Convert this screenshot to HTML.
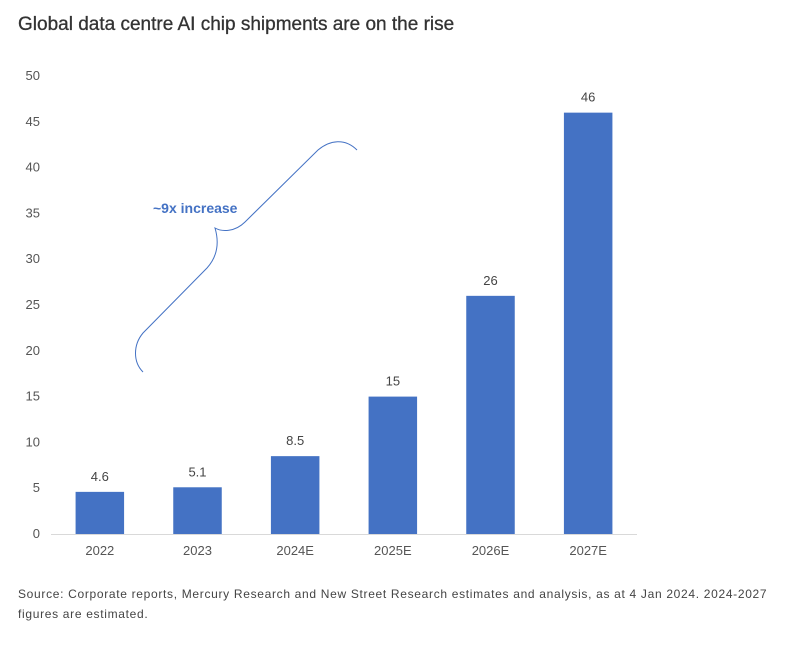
<!DOCTYPE html>
<html><head><meta charset="utf-8"><style>
body{margin:0;width:785px;height:660px;background:#fff;font-family:"Liberation Sans",sans-serif;overflow:hidden;position:relative}
#title{position:absolute;left:18px;top:14px;font-size:19px;color:#333;margin:0;font-weight:normal;-webkit-text-stroke:0.3px #333}
#src{position:absolute;left:18px;top:584px;font-size:12px;color:#444;line-height:20px;width:768px;letter-spacing:0.68px}
svg{position:absolute;left:0;top:0}
</style></head><body>
<h1 id="title">Global data centre AI chip shipments are on the rise</h1>
<svg id="chart" width="785" height="660"></svg>
<div id="src">Source: Corporate reports, Mercury Research and New Street Research estimates and analysis, as at 4 Jan 2024. 2024-2027<br>figures are estimated.</div>
<script>
const categories=["2022","2023","2024E","2025E","2026E","2027E"];
const values=[4.6,5.1,8.5,15,26,46];
const valueLabels=["4.6","5.1","8.5","15","26","46"];
const yTicks=[0,5,10,15,20,25,30,35,40,45,50];
const NS="http://www.w3.org/2000/svg";
const svg=document.getElementById('chart');
const x0=51,x1=637,yBase=534,yTop=76,yMax=50;
const band=(x1-x0)/categories.length,barW=48.5;
const y=v=>yBase-(v/yMax)*(yBase-yTop);
const xc=i=>x0+band*(i+0.5);
function mk(t,a){const e=document.createElementNS(NS,t);for(const k in a)e.setAttribute(k,a[k]);svg.appendChild(e);return e;}
yTicks.forEach(t=>{
 const e=mk('text',{x:40,y:y(t)+4,'text-anchor':'end','font-size':13,fill:'#555'});
 e.textContent=t;
 
 
});
const ax=mk('line',{x1:x0,x2:x1,y1:yBase+0.5,y2:yBase+0.5,stroke:'#d9d9d9','stroke-width':1});


categories.forEach((c,i)=>{
 const r=mk('rect',{x:xc(i)-barW/2,y:y(values[i]),width:barW,height:yBase-y(values[i]),fill:'#4472c4'});
 
 
 const l=mk('text',{x:xc(i),y:y(values[i])-11,'text-anchor':'middle','font-size':13,fill:'#444'});
 l.textContent=valueLabels[i];
 
 
 const t=mk('text',{x:xc(i),y:yBase+21,'text-anchor':'middle','font-size':13,fill:'#555'});
 t.textContent=c;
 
 
});
const br=mk('path',{d:'M143,372 C133,362 133,345 143,333 L207,268 C216,258 220,245 215,228 C222,232 235,232 245,222 L318,150 C330,140 345,138 357,150',fill:'none',stroke:'#4472c4','stroke-width':1});


const an=mk('text',{x:153,y:213,'font-size':14,'font-weight':'bold',fill:'#4472c4'});
an.textContent='~9x increase';


</script>
</body></html>
